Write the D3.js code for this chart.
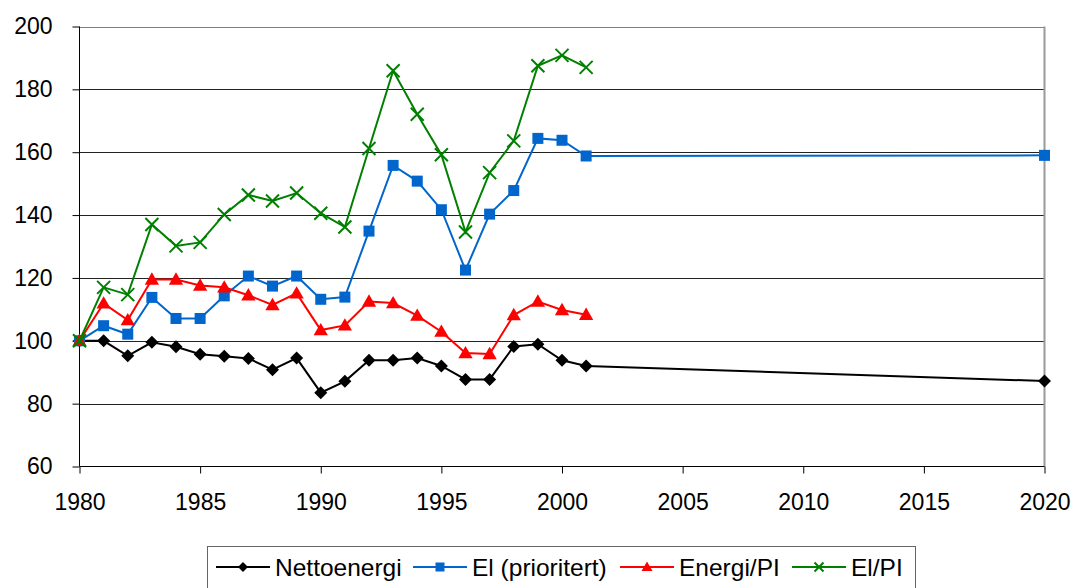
<!DOCTYPE html>
<html>
<head>
<meta charset="utf-8">
<script src="https://cdn.jsdelivr.net/npm/d3@7"></script>
<style>
  body { margin: 0; background: #fff; }
  svg { font-family: Arial, "Liberation Sans", sans-serif; }
</style>
</head>
<body>
<div id="chart"></div>
<script>
// data
var years = [1980, 1981, 1982, 1983, 1984, 1985, 1986, 1987, 1988, 1989, 1990,
             1991, 1992, 1993, 1994, 1995, 1996, 1997, 1998, 1999, 2000, 2001];
var nettoenergi = [100, 100, 95.2, 99.5, 98.1, 95.7, 95.1, 94.4, 90.8, 94.5, 83.5,
                   87.1, 93.8, 93.8, 94.5, 92.0, 87.7, 87.7, 98.2, 98.9, 93.8, 92.0];
var elPrioritert = [100, 104.8, 102.1, 113.8, 107.1, 107.1, 114.3, 120.6, 117.4, 120.6, 113.2,
                    113.9, 134.9, 155.8, 150.8, 141.7, 122.5, 140.3, 147.8, 164.4, 163.8, 158.8];
var energiPI = [100, 111.9, 106.6, 119.5, 119.5, 117.6, 117.0, 114.5, 111.4, 115.1, 103.4,
                104.9, 112.5, 112.0, 108.0, 102.9, 96.1, 95.8, 108.2, 112.5, 109.8, 108.3];
var elPI = [100, 117.0, 114.7, 137.0, 130.2, 131.3, 140.2, 146.4, 144.5, 147.0, 140.6,
            136.2, 161.2, 185.9, 172.1, 159.2, 134.6, 153.5, 163.6, 187.5, 190.8, 187.0];
// 2020 points
var nettoenergi2020 = 87.2;
var elPrioritert2020 = 159.0;

var xTicks = [1980, 1985, 1990, 1995, 2000, 2005, 2010, 2015, 2020];
var yTicks = [60, 80, 100, 120, 140, 160, 180, 200];

var seriesNames = ["Nettoenergi", "El (prioritert)", "Energi/PI", "El/PI"];
var seriesColors = ["#000000", "#0066CC", "#FF0000", "#008000"];
var seriesShapes = ["diamond", "square", "triangle", "cross"];

var W = 1074, H = 588;
var svg = d3.select("#chart").append("svg")
    .attr("width", W).attr("height", H);

var x = d3.scaleLinear().domain([1980, 2020]).range([79.5, 1044.5]);
var y = d3.scaleLinear().domain([60, 200]).range([466.5, 26.5]);

// gridlines
svg.append("g")
  .selectAll("line")
  .data(yTicks.filter(function(d) { return d > 60; }))
  .enter().append("line")
    .attr("x1", x(1980)).attr("x2", x(2020))
    .attr("y1", function(d) { return Math.round(y(d)) + 0.5; })
    .attr("y2", function(d) { return Math.round(y(d)) + 0.5; })
    .attr("stroke", function(d) { return d == 200 ? "#808080" : "#222"; })
    .attr("stroke-width", 1);

// right border
svg.append("line")
  .attr("x1", x(2020)).attr("x2", x(2020))
  .attr("y1", y(200)).attr("y2", y(60))
  .attr("stroke", "#999").attr("stroke-width", 2);

// Y axis
var yAxis = svg.append("g")
  .attr("transform", "translate(" + x(1980) + ",0)")
  .call(d3.axisLeft(y).tickValues(yTicks).tickSize(7).tickPadding(20));
yAxis.select(".domain").attr("stroke", "#000").attr("d", "M0," + y(200) + "V" + y(60));
yAxis.selectAll("text").style("font-size", "23px").attr("fill", "#000")
  .attr("font-family", "Arial, 'Liberation Sans', sans-serif");

// X axis
var xAxis = svg.append("g")
  .attr("transform", "translate(0," + y(60) + ")")
  .call(d3.axisBottom(x).tickValues(xTicks).tickFormat(d3.format("d")).tickSize(7).tickPadding(20));
xAxis.select(".domain").attr("stroke", "#000").attr("d", "M" + x(1980) + ",0H" + x(2020));
xAxis.selectAll("text").style("font-size", "23px").attr("fill", "#000")
  .attr("font-family", "Arial, 'Liberation Sans', sans-serif");

function diamondPath(s) {
  var h = s / 2;
  return "M0," + (-h) + "L" + h + ",0L0," + h + "L" + (-h) + ",0Z";
}

function marker(g, shape, color, s) {
  if (shape == "diamond") {
    g.append("path").attr("d", diamondPath(s)).attr("fill", color);
  } else if (shape == "square") {
    g.append("rect").attr("x", -s / 2).attr("y", -s / 2).attr("width", s).attr("height", s)
      .attr("fill", color);
  } else if (shape == "triangle") {
    g.append("path")
      .attr("d", "M0," + (-s * 0.55) + "L" + (s * 0.55) + "," + (s * 0.4) + "L" + (-s * 0.55) + "," + (s * 0.4) + "Z")
      .attr("fill", color);
  } else {
    var h = s / 2;
    g.append("path").attr("d", "M" + (-h) + "," + (-h) + "L" + h + "," + h + "M" + h + "," + (-h) + "L" + (-h) + "," + h)
      .attr("stroke", color).attr("stroke-width", 2).attr("fill", "none");
  }
}

var seriesData = [
  years.map(function(d, i) { return [d, nettoenergi[i]]; }).concat([[2020, nettoenergi2020]]),
  years.map(function(d, i) { return [d, elPrioritert[i]]; }).concat([[2020, elPrioritert2020]]),
  years.map(function(d, i) { return [d, energiPI[i]]; }),
  years.map(function(d, i) { return [d, elPI[i]]; })
];
var markerSize = [13, 11, 13, 13];

var line = d3.line().x(function(d) { return x(d[0]); }).y(function(d) { return y(d[1]); });

// draw series in order: black, blue, red, green
seriesData.forEach(function(data, k) {
  var g = svg.append("g");
  g.append("path").datum(data)
    .attr("d", line)
    .attr("fill", "none")
    .attr("stroke", seriesColors[k])
    .attr("stroke-width", 2);
  g.selectAll("g.pt").data(data).enter().append("g")
    .attr("class", "pt")
    .attr("transform", function(d) { return "translate(" + x(d[0]) + "," + y(d[1]) + ")"; })
    .each(function() {
      marker(d3.select(this), seriesShapes[k], seriesColors[k], markerSize[k]);
    });
});

// legend
var legend = svg.append("g");
legend.append("rect")
  .attr("x", 207.5).attr("y", 546.5).attr("width", 708).attr("height", 60)
  .attr("fill", "#fff").attr("stroke", "#666").attr("stroke-width", 1);

var legendX = [216, 413, 620, 792];
var legendY = 567;
var legendMarker = [10, 9, 10, 9];
seriesNames.forEach(function(name, k) {
  var g = legend.append("g").attr("transform", "translate(" + legendX[k] + "," + legendY + ")");
  g.append("line").attr("x1", 0).attr("x2", 54).attr("y1", 0).attr("y2", 0)
    .attr("stroke", seriesColors[k]).attr("stroke-width", 2);
  marker(g.append("g").attr("transform", "translate(27,0)"), seriesShapes[k], seriesColors[k], legendMarker[k]);
  g.append("text").attr("x", 59).attr("y", 0).attr("dy", "0.35em")
    .style("font-size", "24.5px").attr("fill", "#000").text(name);
});
</script>
</body>
</html>
